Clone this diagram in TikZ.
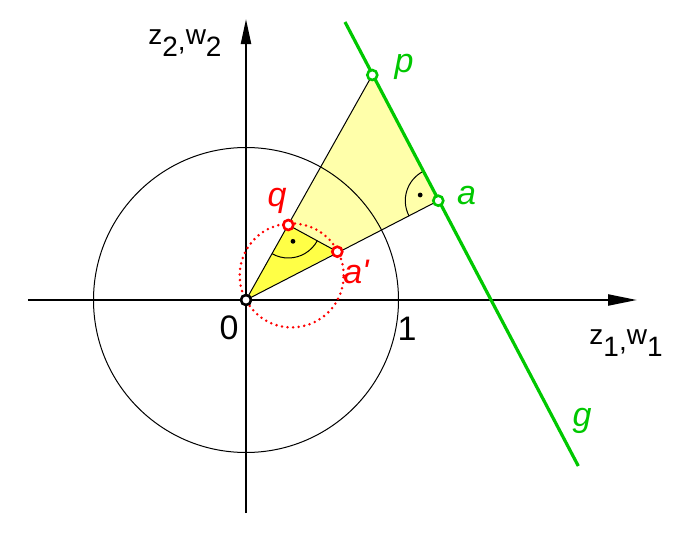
\documentclass[tikz,border=0pt]{standalone}
\usepackage{fontspec}
\setmainfont{Liberation Sans}
\usetikzlibrary{arrows.meta,calc}
\definecolor{ggreen}{RGB}{0,200,0}
\definecolor{lyellow}{RGB}{255,255,170}
\definecolor{dyellow}{RGB}{255,255,70}
\newcommand\lowsub[1]{\raisebox{-12pt}{#1}}
\newcommand\lowcomma{\raisebox{-6pt}{,}}
\begin{document}
\begin{tikzpicture}[x=1pt,y=1pt,
  ptlabel/.style={inner sep=0pt,font=\fontsize{34}{40}\selectfont\itshape},
  numlabel/.style={inner sep=0pt,font=\fontsize{34}{40}\selectfont},
  axlabel/.style={inner sep=0pt,font=\fontsize{28}{32}\selectfont},
  thinline/.style={line width=1pt,black},
  axisline/.style={line width=2.2pt,black},
  greenline/.style={line width=3.2pt,ggreen},
  reddot/.style={red,line width=2.8pt,line cap=round,dash pattern=on 0pt off 5.6pt},
  gpoint/.style={draw=ggreen,fill=white,line width=2.6pt},
  rpoint/.style={draw=red,fill=white,line width=2.6pt},
  opoint/.style={draw=black,fill=white,line width=2.6pt}]
\useasboundingbox (-246,-242) rectangle (435,300);
% coordinates
\coordinate (O) at (0,0);
\coordinate (a) at (192.3,99.3);
\coordinate (p) at (126.3,225);
\coordinate (q) at (42.3,75);
\coordinate (ap) at (91.3,48.3);
\coordinate (c) at (45.7,24.6);
\coordinate (g1) at (99,278);
\coordinate (g2) at (332.3,-166);
\coordinate (xl) at (-218,0);
\coordinate (xr) at (391,0);
\coordinate (yb) at (0,-213);
\coordinate (yt) at (0,281);
% fills
\fill[lyellow] (O) -- (p) -- (a) -- cycle;
\fill[dyellow] (O) -- (q) -- (ap) -- cycle;
\draw[thinline] (O) -- (p);
\draw[thinline] (O) -- (a);
\draw[thinline] (q) -- (ap);
% unit circle
\draw[thinline] (O) circle[radius=152.5];
% right-angle marks
\draw[thinline] ($(q)+(240.6:33)$) arc[start angle=240.6,end angle=331.4,radius=33];
\fill ($(q)+(286:17)$) circle[radius=2.4];
\draw[thinline] ($(a)+(117.7:33)$) arc[start angle=117.7,end angle=207.3,radius=33];
\fill ($(a)+(162.5:19)$) circle[radius=2.4];
% axes
\draw[axisline,-{Triangle[length=29pt,width=11pt]}] (xl) -- (xr);
\draw[axisline,-{Triangle[length=25pt,width=10pt]}] (yb) -- (yt);
% image circle
\draw[reddot] (c) circle[radius=52];
% line g
\draw[greenline] (g1) -- (g2);
% points
\draw[gpoint] (p) circle[radius=5];
\draw[gpoint] (a) circle[radius=5];
\draw[rpoint] (q) circle[radius=5];
\draw[rpoint] (ap) circle[radius=5];
\draw[opoint] (O) circle[radius=5];
% labels
\node[ptlabel,ggreen] (lp) at (158,233) {p};
\node[ptlabel,ggreen] (la) at (220.5,104) {a};
\node[ptlabel,ggreen] (lg) at (336,-121) {g};
\node[ptlabel,red] (lq) at (31,99) {q};
\node[ptlabel,red] (lap) at (110,28) {a\textquotesingle};
\node[numlabel] (l0) at (-17,-28) {0};
\node[numlabel] (l1) at (161,-29) {1};
\node[axlabel] (lz2) at (-61,257) {z\lowsub{2}\lowcomma w\lowsub{2}};
\node[axlabel] (lz1) at (380,-43) {z\lowsub{1}\lowcomma w\lowsub{1}};
\end{tikzpicture}
\end{document}
